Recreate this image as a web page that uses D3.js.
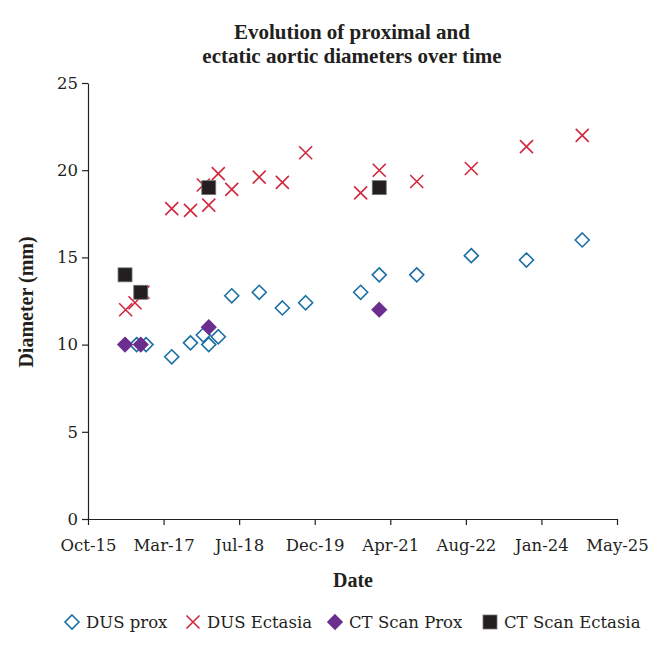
<!DOCTYPE html>
<html>
<head>
<meta charset="utf-8">
<script src="https://cdn.jsdelivr.net/npm/d3@7"></script>
<style>
  body { margin: 0; background: #fff; }
  text { font-family: "DejaVu Serif", "Liberation Serif", serif; fill: #231f20; }
  text.bold { font-family: "Liberation Serif", "DejaVu Serif", serif; font-weight: bold; }
</style>
</head>
<body>
<svg id="chart"></svg>
<script>
// data (date, diameter in mm)
const dusProx = [
  ["2016-09-11", 10], ["2016-11-12", 10], ["2017-05-01", 9.3], ["2017-09-02", 10.1],
  ["2017-11-26", 10.55], ["2018-01-01", 10], ["2018-03-05", 10.45], ["2018-06-02", 12.8],
  ["2018-12-01", 13], ["2019-05-03", 12.1], ["2019-10-04", 12.4], ["2020-10-02", 13],
  ["2021-02-02", 14], ["2021-10-08", 14], ["2022-10-04", 15.1], ["2023-10-04", 14.85],
  ["2024-10-07", 16]
];
const dusEctasia = [
  ["2016-06-30", 12], ["2016-08-31", 12.4], ["2016-10-23", 13], ["2017-05-01", 17.8],
  ["2017-09-02", 17.7], ["2017-11-26", 19.15], ["2018-01-01", 18], ["2018-03-05", 19.8],
  ["2018-06-02", 18.9], ["2018-12-01", 19.6], ["2019-05-03", 19.3], ["2019-10-04", 21],
  ["2020-10-02", 18.7], ["2021-02-02", 20], ["2021-10-08", 19.35], ["2022-10-04", 20.1],
  ["2023-10-04", 21.35], ["2024-10-07", 22]
];
const ctProx = [["2016-06-26", 10], ["2016-10-08", 10], ["2018-01-01", 11], ["2021-02-02", 12]];
const ctEctasia = [["2016-06-26", 14], ["2016-10-08", 13], ["2018-01-01", 19], ["2021-02-02", 19]];

const yTicks = [0, 5, 10, 15, 20, 25];
const startDate = "2015-10-25";
const tickStepDays = 500;
const tickCount = 8;

const width = 669;
const height = 651;
const margin = { left: 88, right: 52, top: 83, bottom: 132 };
const fontSize = 16.5;

const parse = d3.timeParse("%Y-%m-%d");
const day = 24 * 3600 * 1000;
const t0 = parse(startDate);
const xTickValues = d3.range(tickCount).map(i => new Date(t0.getTime() + i * tickStepDays * day));

const svg = d3.select('svg#chart').attr('width', width).attr('height', height)

const x = d3.scaleTime()
  .domain([xTickValues[0], xTickValues[tickCount - 1]])
  .range([margin.left, width - margin.right]);
const y = d3.scaleLinear().domain([0, 25]).range([height - margin.bottom, margin.top]);

// axes
const xAxis = svg.append('g')
  .attr('transform', 'translate(0,' + (height - margin.bottom) + ')')
  .call(d3.axisBottom(x).tickValues(xTickValues).tickFormat(d3.timeFormat("%b-%y")).tickSize(6).tickSizeOuter(0))
xAxis.selectAll('text').attr('font-size', fontSize).attr('dy', '1.4em')

const yAxis = svg.append('g')
  .attr('transform', 'translate(' + margin.left + ',0)')
  .call(d3.axisLeft(y).tickValues(yTicks).tickSize(6).tickSizeOuter(0))
yAxis.selectAll('text').attr('font-size', fontSize).attr('x', -10)

svg.selectAll('.domain, .tick line').attr('stroke', '#231f20').attr('stroke-width', 1.2)

// titles
const title = svg.append('text').attr('class', 'bold').attr('text-anchor', 'middle').attr('font-size', 21)
title.append('tspan').attr('x', 352).attr('y', 39).text('Evolution of proximal and')
title.append('tspan').attr('x', 352).attr('y', 63).text('ectatic aortic diameters over time')

svg.append('text').attr('class', 'bold').attr('text-anchor', 'middle').attr('font-size', 20)
  .attr('x', 353).attr('y', 587).text('Date')

svg.append('text').attr('class', 'bold').attr('text-anchor', 'middle').attr('font-size', 20)
  .attr('transform', 'translate(33,302) rotate(-90)').text('Diameter (mm)')

// marker shapes
const blue = '#1b6fa3', red = '#d1283f', purple = '#6b2e8f', black = '#231f20';
function diamond(g, fill, stroke) {
  g.append('path').attr('d', 'M0,-7L7,0L0,7L-7,0Z')
    .attr('fill', fill).attr('stroke', stroke).attr('stroke-width', 1.6)
}
function cross(g) {
  g.append('path').attr('d', 'M-6.5,-6.5L6.5,6.5M-6.5,6.5L6.5,-6.5')
    .attr('stroke', red).attr('stroke-width', 1.6).attr('fill', 'none')
}
function square(g) {
  g.append('rect').attr('x', -7).attr('y', -7).attr('width', 14).attr('height', 14)
    .attr('fill', black).attr('stroke', '#777').attr('stroke-width', 0.8)
}

const series = [
  { name: 'DUS prox', data: dusProx, draw: g => diamond(g, '#fff', blue) },
  { name: 'DUS Ectasia', data: dusEctasia, draw: g => cross(g) },
  { name: 'CT Scan Prox', data: ctProx, draw: g => diamond(g, purple, purple) },
  { name: 'CT Scan Ectasia', data: ctEctasia, draw: g => square(g) }
];

series.forEach(s => {
  svg.append('g').selectAll('g').data(s.data).enter().append('g')
    .attr('transform', d => 'translate(' + x(parse(d[0])) + ',' + y(d[1]) + ')')
    .each(function () { s.draw(d3.select(this)) })
})

// legend
const legendX = [72, 193, 335, 490];
series.forEach((s, i) => {
  const g = svg.append('g').attr('transform', 'translate(' + legendX[i] + ',622)')
  s.draw(g)
  g.append('text').attr('x', 14).attr('y', 6).attr('font-size', fontSize).text(s.name)
})
</script>
</body>
</html>
